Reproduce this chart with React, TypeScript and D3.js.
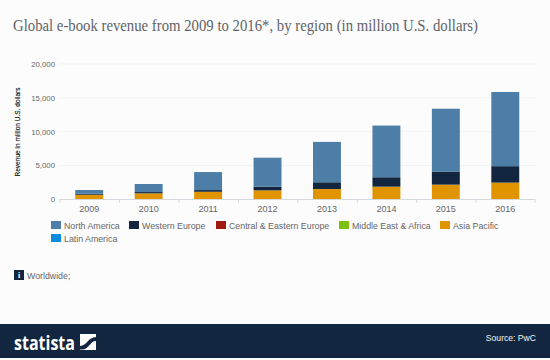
import React from "react";
import * as d3 from "d3";

const years = ["2009", "2010", "2011", "2012", "2013", "2014", "2015", "2016"];
const northAmerica = [550, 1190, 2660, 4290, 5970, 7640, 9290, 10960];
const westernEurope = [150, 190, 250, 540, 995, 1390, 1930, 2430];
const centralEurope = [3, 4, 6, 8, 10, 12, 14, 16];
const middleEast = [2, 3, 4, 6, 8, 10, 12, 14];
const asiaPacific = [665, 870, 1100, 1300, 1490, 1830, 2120, 2410];
const latinAmerica = [2, 3, 5, 8, 12, 18, 24, 30];
const yTicks = [0, 5000, 10000, 15000, 20000];

const seriesNames = ["North America", "Western Europe", "Central & Eastern Europe", "Middle East & Africa", "Asia Pacific", "Latin America"];
const seriesColors = ["#4d7ea8", "#12273f", "#a01a10", "#7cc00f", "#e09500", "#0e8ce0"];
const seriesValues = [northAmerica, westernEurope, centralEurope, middleEast, asiaPacific, latinAmerica];
const legendX = [51, 129, 216, 339, 440, 51];
const legendY = [221, 221, 221, 221, 221, 234];

const sans = "'Liberation Sans', Arial, sans-serif";

export default function App() {
  const x = d3.scaleBand().domain(years).range([59.5, 535]).paddingInner(0.53).paddingOuter(0.265);
  const ticksX = d3.scaleBand().domain(years).range([59.5, 535]);
  const y = d3.scaleLinear().domain([0, 20000]).range([199.3, 64]);
  const rows = years.map((yr, i) => {
    const r: Record<string, number | string> = { year: yr };
    seriesNames.forEach((n, s) => (r[n] = seriesValues[s][i]));
    return r;
  });
  const stacked = d3.stack<any>().keys([...seriesNames].reverse())(rows);

  return (
    <svg width={550} height={360} style={{ position: "fixed", left: 0, top: 0, display: "block" }}>
      <rect width={550} height={360} fill="#fcfcfc" />
      <text x={13} y={31} fontFamily="'Liberation Serif', Georgia, serif" fontSize={16.5} fill="#5f6368" textLength={465} lengthAdjust="spacingAndGlyphs">
        Global e-book revenue from 2009 to 2016*, by region (in million U.S. dollars)
      </text>

      {yTicks.map((t) => (
        <g key={t}>
          {t > 0 && <line x1={59.5} x2={535} y1={y(t)} y2={y(t)} stroke="#f3f3f3" />}
          <text x={55} y={y(t) + 3} textAnchor="end" fontFamily={sans} fontSize={7.8} fill="#666">
            {d3.format(",")(t)}
          </text>
        </g>
      ))}

      <text transform="translate(20,132) rotate(-90)" textAnchor="middle" fontFamily={sans} fontSize={8} fill="#111" stroke="#111" strokeWidth={0.15} textLength={89} lengthAdjust="spacingAndGlyphs">
        Revenue in million U.S. dollars
      </text>

      {stacked.map((layer) => {
        const color = seriesColors[seriesNames.indexOf(layer.key)];
        return (
          <g key={layer.key} fill={color}>
            {layer.map((d) => (
              <rect key={String(d.data.year)} x={x(String(d.data.year))} width={x.bandwidth()} y={y(d[1])} height={y(d[0]) - y(d[1])} />
            ))}
          </g>
        );
      })}

      <line x1={59.5} x2={535} y1={199.5} y2={199.5} stroke="#d5d8dc" />
      {years.map((yr) => (
        <line key={yr} x1={ticksX(yr)! + 0.5} x2={ticksX(yr)! + 0.5} y1={199} y2={203} stroke="#d5d8dc" />
      ))}
      <line x1={535} x2={535} y1={199} y2={203} stroke="#d5d8dc" />
      {years.map((yr) => (
        <text key={yr} x={x(yr)! + x.bandwidth() / 2} y={212} textAnchor="middle" fontFamily={sans} fontSize={9} fill="#666">
          {yr}
        </text>
      ))}

      {seriesNames.map((n, i) => (
        <g key={n}>
          <rect x={legendX[i]} y={legendY[i]} width={10} height={8} fill={seriesColors[i]} />
          <text x={legendX[i] + 13} y={legendY[i] + 8} fontFamily={sans} fontSize={8.8} fill="#666">
            {n}
          </text>
        </g>
      ))}

      <rect x={14} y={270} width={10} height={10} fill="#12273f" />
      <text x={19} y={278} textAnchor="middle" fontFamily="'Liberation Serif', serif" fontWeight="bold" fontSize={8} fill="#fff">i</text>
      <text x={27} y={279} fontFamily={sans} fontSize={8.8} fill="#666">Worldwide;</text>

      <rect x={0} y={324} width={550} height={34} fill="#12273f" />
      <text x={14} y={350} fontFamily="'Open Sans', sans-serif" fontWeight="bold" fontSize={20} fill="#fff" textLength={61} lengthAdjust="spacingAndGlyphs">statista</text>
      <rect x={80} y={334} width={16} height={16} fill="#fff" />
      <path d="M80 346 C87 346 88 337 96 337 L96 341 C90 341 89 349.5 82 349.5 L80 349.5 Z" fill="#12273f" />
      <text x={536} y={341} textAnchor="end" fontFamily={sans} fontSize={8.6} fill="#f2f4f6">Source: PwC</text>
    </svg>
  );
}
